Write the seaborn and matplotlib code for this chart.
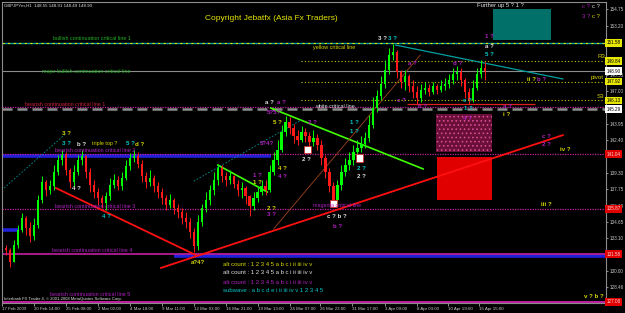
import matplotlib
matplotlib.use("Agg")
import matplotlib.pyplot as plt
from matplotlib.patches import Rectangle
import numpy as np
import pandas as pd
import seaborn as sns

W, H = 625, 313

# ---------------- data ----------------
header_text = "GBPJPYm,H1  148.55 148.91 148.49 148.90"
first_open = 132.18
closes = [131.99, 130.86, 132.46, 133.88, 135.02, 134.07, 133.31, 134.35, 136.72, 138.42,
          137.66, 138.04, 139.37, 140.50, 140.97, 139.55, 138.42, 139.37, 140.50, 140.88,
          139.37, 138.14, 137.47, 136.91, 136.43, 137.10, 138.14, 138.61, 138.04, 138.80,
          139.93, 140.69, 140.88, 140.12, 138.99, 138.42, 138.80, 138.04, 137.47, 136.91,
          136.25, 136.72, 135.96, 135.58, 135.02, 134.64, 133.69, 132.37, 134.64, 135.96,
          136.72, 137.66, 138.61, 139.74, 138.99, 138.61, 138.99, 138.23, 137.66, 137.85,
          137.10, 136.15, 136.91, 137.47, 138.04, 137.66, 139.37, 140.50, 141.45, 143.15,
          144.09, 143.53, 142.77, 142.39, 143.15, 142.77, 142.20, 142.58, 141.92, 140.69,
          139.37, 138.04, 136.72, 138.14, 139.37, 140.03, 140.50, 141.26, 141.63, 142.01,
          142.58, 143.81, 145.42, 146.55, 147.69, 149.01, 150.43, 150.71, 148.82, 147.88,
          148.44, 147.50, 146.93, 146.36, 147.12, 147.31, 146.93, 147.50, 147.12, 147.50,
          147.69, 148.07, 148.63, 148.82, 148.07, 146.93, 146.17, 147.31, 148.63, 149.20,
          148.90]
highs = [132.46, 132.18, 132.94, 134.35, 135.49, 135.21, 134.64, 135.02, 137.19, 138.99,
         138.61, 138.61, 140.03, 140.97, 141.45, 141.26, 139.74, 140.03, 140.97, 141.45,
         140.97, 139.74, 138.61, 137.85, 137.19, 137.47, 138.80, 139.18, 138.99, 139.37,
         140.50, 141.16, 141.45, 141.26, 140.50, 139.37, 139.55, 139.08, 138.42, 137.85,
         137.19, 137.29, 136.91, 136.34, 135.96, 135.58, 135.02, 134.07, 135.30, 136.34,
         137.47, 138.14, 139.37, 140.12, 140.03, 139.37, 139.55, 139.08, 138.61, 138.42,
         138.04, 137.19, 137.47, 138.04, 138.61, 138.61, 140.03, 141.26, 142.39, 143.81,
         144.66, 144.57, 143.90, 143.34, 143.72, 143.53, 143.15, 143.34, 142.96, 142.39,
         140.97, 139.74, 138.42, 138.61, 140.03, 140.69, 141.26, 141.92, 142.39, 142.77,
         143.15, 144.76, 146.46, 147.12, 148.44, 149.96, 151.09, 151.47, 150.90, 149.01,
         149.01, 148.63, 148.07, 147.50, 147.69, 147.88, 147.69, 147.88, 147.69, 148.07,
         148.25, 148.63, 149.20, 149.39, 149.20, 148.25, 147.31, 148.07, 149.20, 149.96,
         149.77]
lows = [131.52, 130.38, 130.86, 132.18, 133.69, 133.41, 132.75, 132.94, 134.07, 136.43,
        137.10, 137.29, 137.66, 139.08, 140.03, 139.08, 137.85, 138.04, 139.08, 140.03,
        138.80, 137.47, 136.91, 136.25, 135.96, 135.77, 136.72, 137.85, 137.66, 137.66,
        138.61, 139.55, 140.31, 139.74, 138.42, 137.85, 138.04, 137.47, 136.91, 136.34,
        135.77, 135.96, 135.39, 135.02, 134.45, 134.07, 133.12, 131.80, 131.99, 134.26,
        135.58, 136.25, 137.19, 138.14, 138.42, 138.04, 138.23, 137.85, 137.10, 136.91,
        136.34, 135.21, 135.77, 136.53, 137.19, 137.19, 137.47, 139.08, 140.03, 141.26,
        142.77, 142.96, 142.11, 141.92, 142.20, 142.20, 141.73, 141.82, 141.45, 140.03,
        138.80, 137.47, 136.06, 136.25, 137.66, 138.99, 139.55, 140.03, 140.69, 141.26,
        141.63, 142.20, 143.53, 145.04, 146.17, 147.31, 148.63, 149.96, 148.25, 147.31,
        147.12, 146.93, 146.36, 145.80, 145.98, 146.74, 146.55, 146.74, 146.74, 146.93,
        147.12, 147.31, 147.69, 148.07, 147.50, 146.36, 145.80, 145.98, 147.12, 148.25,
        148.07]

date_labels = ["17 Feb 2009", "20 Feb 14:00", "25 Feb 08:00", "2 Mar 02:00", "4 Mar 18:00",
               "9 Mar 11:00", "12 Mar 03:00", "16 Mar 21:00", "19 Mar 13:00", "24 Mar 07:00",
               "26 Mar 23:00", "31 Mar 17:00", "3 Apr 09:00", "8 Apr 03:00", "10 Apr 19:00",
               "15 Apr 15:00"]
date_bars = [-1, 7, 15, 23, 31, 39, 47, 55, 63, 71, 78.75, 86.75, 95, 103, 110.75, 118.5]

price_ticks = [154.75, 153.20, 148.55, 147.00, 143.95, 142.40, 139.30, 137.75, 136.19,
               134.65, 133.10, 130.00, 128.46]

# price tags on the right axis: value, face colour
tag_values = [151.58, 149.84, 148.90, 147.92, 146.13, 145.29, 141.04, 135.87, 131.58, 127.08]
tag_faces = ["#E6E600", "#E6E600", "#FFFFFF", "#E6E600", "#E6E600", "#FFFFFF",
             "#E00000", "#E00000", "#E00000", "#E00000"]

# horizontal levels: price, colour, style, width, start bar, end bar
h_levels = [
    (151.58, "#00A0A0", "-", 1.0, -1, 151),
    (151.58, "#E6E600", (0, (2, 3)), 0.8, -1, 151),
    (149.84, "#C8C800", (0, (1, 2)), 0.8, 73.75, 151),
    (148.90, "#8C8C8C", "-", 0.8, -1, 151),
    (147.92, "#C8C800", (0, (1, 2)), 0.8, 73.75, 151),
    (146.13, "#C8C800", (0, (1, 2)), 0.8, 73.75, 151),
    (145.55, "#C020A0", (0, (1, 1)), 0.9, -1, 151),
    (145.29, "#8C8C8C", (0, (4, 2)), 1.8, -1, 151),
    (145.80, "#E02020", "-", 0.9, 100.5, 132.5),
    (140.90, "#2020D8", "-", 2.6, -1, 66.25),
    (141.04, "#C020A0", (0, (1, 1)), 0.9, -1, 151),
    (135.87, "#C020A0", (0, (1, 1)), 0.9, -1, 151),
    (133.88, "#2020D8", "-", 2.6, -1, 3.25),
    (131.45, "#2020D8", "-", 2.6, 42, 151),
    (131.58, "#C020A0", "-", 1.2, -1, 151),
    (127.08, "#C020A0", "-", 1.4, -1, 151),
]

# trend lines: (bar0, price0, bar1, price1, colour, width, style)
trend_lines = [
    (12.5, 137.85, 47.5, 131.52, "#FF1010", 1.3, "-"),
    (38.75, 130.29, 139.5, 142.86, "#FF1010", 1.3, "-"),
    (66.25, 145.42, 104.5, 139.65, "#40FF00", 1.2, "-"),
    (53.0, 140.03, 65.5, 137.47, "#40FF00", 1.2, "-"),
    (97.5, 151.37, 139.5, 148.16, "#00A0A0", 0.9, "-"),
    (67.0, 133.98, 103.75, 150.43, "#8B3A1A", 0.7, "-"),
    (-0.5, 137.85, 15.0, 143.0, "#009090", 0.6, (0, (2, 2))),
    (47.0, 138.5, 74.0, 144.3, "#009090", 0.6, (0, (2, 2))),
]

# zones: bar0, bar1, price_low, price_high, face, hatch
zones = [
    (122.0, 136.5, 151.85, 154.78, "#007068", None),
    (107.75, 121.75, 141.26, 144.85, "#6A1038", "...."),
    (108.0, 121.75, 136.72, 140.78, "#E00000", None),
]

# ---------------- drawing ----------------
sns.set_theme(style="dark", rc={"axes.facecolor": "black", "figure.facecolor": "black",
                                "axes.edgecolor": "#8C8C8C", "axes.linewidth": 0.8,
                                "hatch.color": "#E050A0", "hatch.linewidth": 0.6})
plt.rcParams["font.family"] = ["Liberation Sans", "DejaVu Sans"]

fig = plt.figure(figsize=(W / 100, H / 100), dpi=100)
ax = fig.add_axes([2 / W, 1 - 303 / H, (606 - 2) / W, (303 - 2) / H])
ax.set_facecolor("black")
ax.grid(False)

n = len(closes)
opens = [first_open] + closes[:-1]
df = pd.DataFrame({"bar": np.arange(n), "open": opens, "high": highs,
                   "low": lows, "close": closes})
df["high"] = df[["high", "open", "close"]].max(axis=1)
df["low"] = df[["low", "open", "close"]].min(axis=1)
df["dir"] = np.where(df["close"] >= df["open"], "up", "down")
colmap = {"up": "#00FF00", "down": "#FF1A1A"}

# horizontal levels
for p, c, ls, lw, b0, b1 in h_levels:
    ax.hlines(p, b0, b1, colors=c, linestyles=ls, linewidth=lw, zorder=1)

# zones
for b0, b1, plo, phi, fc, hatch in zones:
    if hatch:
        ax.add_patch(Rectangle((b0, plo), b1 - b0, phi - plo, facecolor=fc,
                               edgecolor="#E050A0", hatch=hatch, linewidth=0, zorder=1))
    else:
        ax.add_patch(Rectangle((b0, plo), b1 - b0, phi - plo, facecolor=fc,
                               edgecolor="none", zorder=1))

# candles
for d, g in df.groupby("dir"):
    ax.vlines(g["bar"], g["low"], g["high"], colors=colmap[d], linewidth=0.7, zorder=3)
    lo = g[["open", "close"]].min(axis=1)
    hi = g[["open", "close"]].max(axis=1)
    ax.bar(g["bar"], (hi - lo).clip(lower=0.04), bottom=lo, width=0.55,
           color=colmap[d], edgecolor=colmap[d], linewidth=0, zorder=3)

# trend lines via seaborn
for i, (b0, p0, b1, p1, c, lw, ls) in enumerate(trend_lines):
    seg = pd.DataFrame({"bar": [b0, b1], "price": [p0, p1]})
    sns.lineplot(data=seg, x="bar", y="price", color=c, linewidth=lw, linestyle=ls,
                 ax=ax, zorder=2, legend=False)

ax.set_xlim(-0.75, 150.25)
ax.set_ylim(126.98, 155.44)
ax.set_xlabel("")
ax.set_ylabel("")

# axes ticks
ax.yaxis.tick_right()
ax.set_yticks(price_ticks)
ax.set_yticklabels([f"{v:.2f}" for v in price_ticks])
ax.tick_params(axis="y", colors="#C8C8C8", labelsize=3.3, length=1.5, width=0.5, pad=0.8,
               right=True, left=False)
ax.set_xticks(date_bars)
ax.set_xticklabels(date_labels, ha="left")
ax.tick_params(axis="x", colors="#C8C8C8", labelsize=3.2, length=2, width=0.5, pad=1.2,
               bottom=True)
for s in ax.spines.values():
    s.set_color("#8C8C8C")
    s.set_linewidth(0.8)

# price tags
for v, fc in zip(tag_values, tag_faces):
    tc = "#FFD0D0" if fc == "#E00000" else "black"
    ax.annotate(f"{v:.2f}", xy=(1.0, v), xycoords=ax.get_yaxis_transform(),
                xytext=(0.6, 0), textcoords="offset points", ha="left", va="center",
                fontsize=3.3, color=tc, annotation_clip=False, zorder=10,
                bbox=dict(boxstyle="square,pad=0.3", fc=fc, ec="none"))

# white arrow markers
for b, p in [(75.5, 141.5), (88.5, 140.7), (82.0, 136.4)]:
    ax.add_patch(Rectangle((b - 0.9, p - 0.35), 1.8, 0.7, facecolor="white",
                           edgecolor="#E02020", linewidth=0.5, zorder=6))


def ptxt(x, y, s, color, size=4.0, weight="normal"):
    fig.text(x / W, 1 - y / H, s, color=color, fontsize=size, ha="left", va="center",
             weight=weight)


YEL, CYA, MAG, WHT, GRN = "#D8D800", "#00C8C8", "#B020C0", "#E0E0E0", "#22B022"

ptxt(4, 6, header_text, WHT, 3.2)
ptxt(205, 18, "Copyright Jebatfx (Asia Fx Traders)", "#E6E600", 6.0)
ptxt(53, 39, "bullish continuation critical line 1", GRN, 3.9)
ptxt(313, 47, "yellow critical line", YEL, 3.9)
ptxt(42, 72, "major bullish continuation critical line", GRN, 3.9)
ptxt(25, 104, "bearish continuation critical line 1", "#D02040", 3.9)
ptxt(315, 106, "white critical line", WHT, 3.9)
ptxt(55, 150, "bearish continuation critical line 2", MAG, 3.9)
ptxt(92, 144, "triple top ?", YEL, 3.9)
ptxt(55, 206, "bearish continuation critical line 3", MAG, 3.9)
ptxt(52, 251, "bearish continuation critical line 4", MAG, 3.9)
ptxt(313, 205, "magenta critical line", MAG, 3.9)
ptxt(50, 294, "bearish continuation critical line 5", MAG, 3.9)
ptxt(4, 299, "Interbank FX Trader 4, \u00a9 2001-2008 MetaQuotes Software Corp.", WHT, 3.0)
ptxt(477, 6, "Further up 5 ? 1 ?", WHT, 4.2)
ptxt(582, 7, "c ?", MAG, 4.2)
ptxt(592, 7, "c ?", WHT, 4.2)
ptxt(582, 16, "3 ?", MAG, 4.2)
ptxt(592, 16, "c ?", YEL, 4.2)
ptxt(597, 57, "R3", YEL, 4.4)
ptxt(591, 77, "pivot", YEL, 4.4)
ptxt(597, 97, "S3", YEL, 4.4)

legend_rows = [("alt count : 1 2 3 4 5 a b c i ii iii iv v", YEL),
               ("alt count : 1 2 3 4 5 a b c i ii iii iv v", WHT),
               ("alt count : 1 2 3 4 5 a b c i ii iii iv v", MAG),
               ("subwave : a b c d e i ii iii iv v 1 2 3 4 5", CYA)]
for k, (s, c) in enumerate(legend_rows):
    ptxt(223, 264 + 9 * k, s, c, 4.3)

waves = [
    (62, 133, "3 ?", YEL), (62, 143, "3 ?", CYA), (77, 145, "b ?", WHT),
    (126, 143, "5 ?", CYA), (135, 144, "d ?", YEL), (72, 189, "4 ?", WHT),
    (102, 217, "4 ?", CYA), (191, 262, "a?4?", YEL), (267, 208, "2 ?", YEL),
    (267, 214, "3 ?", MAG), (253, 175, "1 ?", MAG), (253, 182, "1 ?", YEL),
    (265, 103, "a ?", WHT), (277, 103, "a ?", MAG), (267, 113, "5?5?", MAG),
    (273, 122, "5 ?", YEL), (308, 122, "2 ?", MAG), (350, 123, "1 ?", CYA),
    (350, 132, "1 ?", CYA), (357, 168, "2 ?", CYA), (357, 177, "2 ?", WHT),
    (260, 143, "5?4?", MAG), (278, 169, "4 ?", YEL), (278, 177, "4 ?", MAG),
    (302, 159, "2 ?", WHT), (327, 217, "c ? b ?", WHT), (333, 226, "b ?", MAG),
    (378, 38, "3 ?", WHT), (388, 38, "3 ?", CYA), (485, 37, "1 ?", MAG),
    (485, 46, "a ?", WHT), (485, 55, "5 ?", CYA), (408, 63, "a ?", MAG),
    (453, 63, "d ?", MAG), (527, 79, "ii ?", YEL), (537, 79, "b ?", MAG),
    (397, 101, "c ?", MAG), (463, 101, "e ?", CYA), (464, 109, "1 ?", CYA),
    (418, 107, "b ?", MAG), (503, 107, "a ?", MAG), (503, 115, "i ?", YEL),
    (463, 118, "4 ?", MAG), (542, 136, "c ?", MAG), (542, 145, "2 ?", MAG),
    (560, 149, "iv ?", YEL), (541, 205, "iii ?", YEL), (584, 297, "v ? b ?", YEL),
]
for x, y, s, c in waves:
    ptxt(x, y, s, c, 4.4, "bold")

fig.savefig("out.png", dpi=100, facecolor="black")
